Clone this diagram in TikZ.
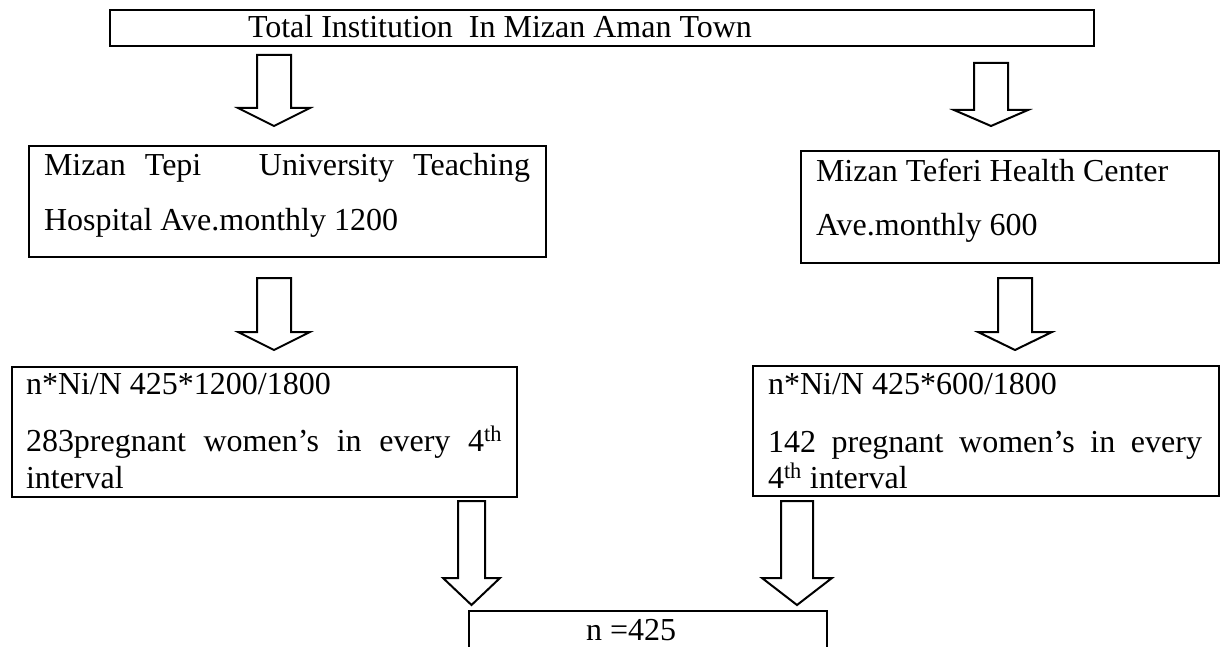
\documentclass[tikz,border=0pt]{standalone}
\usepackage{fontspec}
\setmainfont{Liberation Serif}
\tikzset{
  box/.style={draw=black, line width=1.6pt, inner sep=0pt, outer sep=0pt, anchor=north west},
  txt/.style={anchor=base west, inner sep=0pt, outer sep=0pt, font=\fontsize{32}{38}\selectfont},
  blk/.style={draw=black, line width=2pt, fill=white, line join=miter},
}
% centre x, top y, shoulder y, tip y, shaft half width, head half width
\newcommand\blockarrowdraw[6]{%
  \draw[blk] (#1-#5,#2) -- (#1+#5,#2) -- (#1+#5,#3) -- (#1+#6,#3) -- (#1,#4)
    -- (#1-#6,#3) -- (#1-#5,#3) -- cycle;}
\begin{document}
\begin{tikzpicture}[x=1pt,y=-1pt]
\useasboundingbox (0,0) rectangle (1221,647);

% top box
\node[box, minimum width=984pt, minimum height=36pt] (top) at (110,10) {};
\node[txt] (toptext) at (248,38) {Total Institution \ In Mizan Aman Town};

% level 2
\node[box, minimum width=517pt, minimum height=111pt] (hosp) at (29,146) {};
\node[txt] (hosp1) at (44,176) {\makebox[486pt][s]{Mizan Tepi \ \ University Teaching}};
\node[txt] (hosp2) at (44,231) {Hospital Ave.monthly 1200};

\node[box, minimum width=418pt, minimum height=112pt] (hc) at (801,151) {};
\node[txt] (hc1) at (816,182) {Mizan Teferi Health Center};
\node[txt] (hc2) at (816,236) {Ave.monthly 600};

% level 3
\node[box, minimum width=505pt, minimum height=130pt] (calcL) at (12,367) {};
\node[txt] (calcL1) at (26,394) {n*Ni/N 425*1200/1800};
\node[txt] (calcL2) at (26,451) {\makebox[476pt][s]{283pregnant women’s in every 4\textsuperscript{th}}};
\node[txt] (calcL3) at (26,488) {interval};

\node[box, minimum width=466pt, minimum height=130pt] (calcR) at (753,366) {};
\node[txt] (calcR1) at (768,394) {n*Ni/N 425*600/1800};
\node[txt] (calcR2) at (768,452) {\makebox[434pt][s]{142 pregnant women’s in every}};
\node[txt] (calcR3) at (768,488) {4\textsuperscript{th} interval};

% bottom box
\node[box, minimum width=358pt, minimum height=60pt] (total) at (469,611) {};
\node[txt] (totaltext) at (586,640) {n =425};

% block arrows
\blockarrowdraw{274}{55}{108}{126}{17}{36}
\blockarrowdraw{991}{63}{110}{126}{17}{37}
\blockarrowdraw{274}{278}{332}{350}{17}{36}
\blockarrowdraw{1015}{278}{332}{350}{17}{37}
\blockarrowdraw{471.5}{501}{578}{605}{13.5}{28.5}
\blockarrowdraw{797}{501}{578}{605}{16}{35}
\end{tikzpicture}
\end{document}
